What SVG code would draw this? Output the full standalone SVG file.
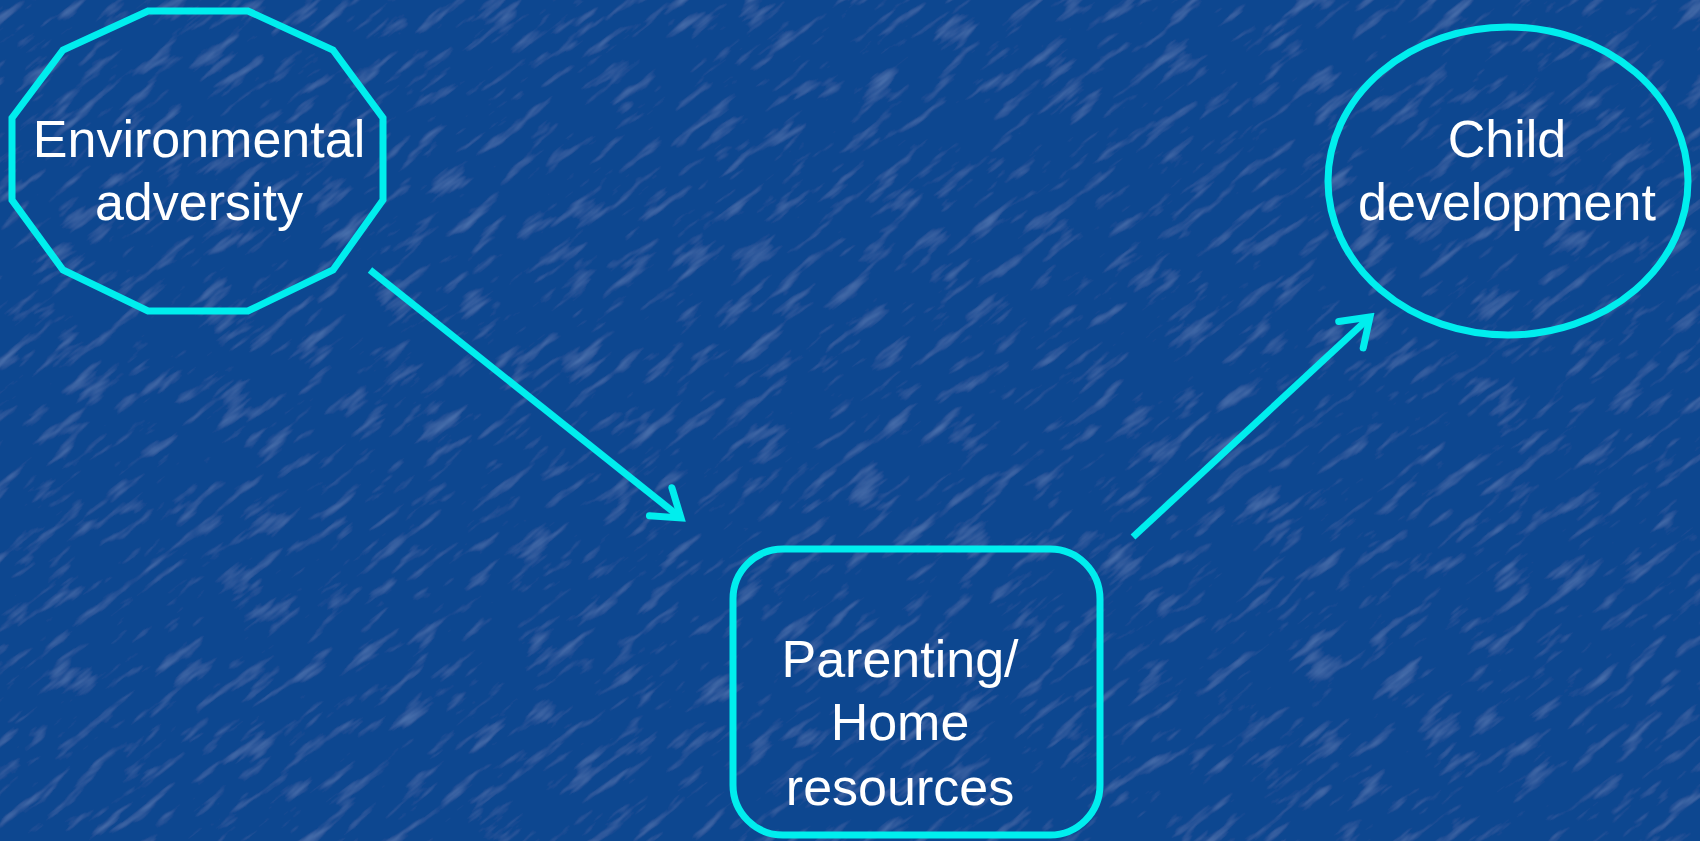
<svg xmlns="http://www.w3.org/2000/svg" width="1700" height="841" viewBox="0 0 1700 841">
<style>
.shape{fill:none;stroke:#00eeee;stroke-width:7}
.conn{fill:none;stroke:#00eeee;stroke-width:7}
.lbl{font-family:"Liberation Sans",Arial,sans-serif;font-size:52px;fill:#ffffff;text-anchor:middle}
</style>
<defs>
<filter id="tex" x="0" y="0" width="100%" height="100%">
<feTurbulence type="fractalNoise" baseFrequency="0.02 0.09" numOctaves="3" seed="4" result="n"/>
<feColorMatrix in="n" type="matrix" values="0 0 0 0 0.25  0 0 0 0 0.45  0 0 0 0 0.8  0 0 0 0.7 -0.4" result="c"/>
<feComposite in="c" in2="SourceGraphic" operator="over"/>
</filter>
<marker id="ah" markerUnits="userSpaceOnUse" viewBox="-4 -24 38 48" markerWidth="38" markerHeight="48" refX="28" refY="0" orient="auto">
<path d="M2,-18 L28,0 L2,18" fill="none" stroke="#00eeee" stroke-width="7" stroke-linecap="round"/>
</marker>
</defs>
<rect x="0" y="0" width="1700" height="841" fill="#0c4690"/>
<g transform="rotate(-38 850 420)">
<rect x="-500" y="-700" width="2700" height="2240" fill="#0c4690" filter="url(#tex)"/>
</g>
<g id="connectors">
<line class="conn" x1="370" y1="270" x2="681" y2="518" marker-end="url(#ah)"/>
<line class="conn" x1="1133" y1="537" x2="1370" y2="317" marker-end="url(#ah)"/>
</g>
<g id="env">
<polygon class="shape" points="148,11 248,11 333,50 383,118 383,200 333,270 248,311 148,311 63,270 12,200 12,118 63,50"/>
<text class="lbl" x="199" y="157">Environmental</text>
<text class="lbl" x="199" y="220">adversity</text>
</g>
<g id="child">
<ellipse class="shape" cx="1508" cy="181" rx="180" ry="154"/>
<text class="lbl" x="1507" y="157">Child</text>
<text class="lbl" x="1507" y="220">development</text>
</g>
<g id="parenting">
<rect class="shape" x="733" y="549" width="367" height="286" rx="50" ry="50"/>
<text class="lbl" x="900" y="677">Parenting/</text>
<text class="lbl" x="900" y="740">Home</text>
<text class="lbl" x="900" y="805">resources</text>
</g>
</svg>
